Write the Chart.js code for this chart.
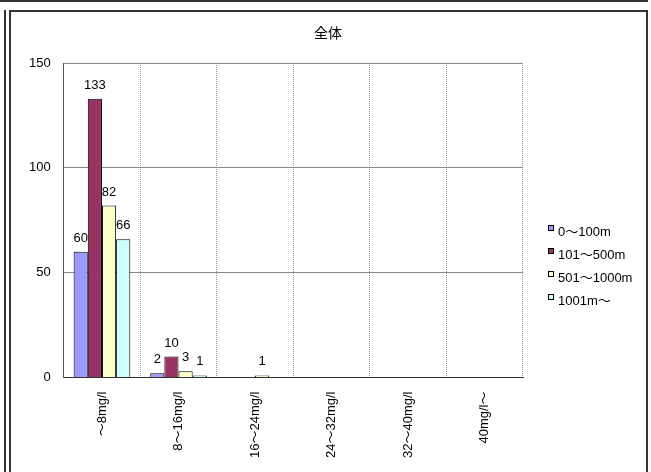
<!DOCTYPE html>
<html lang="ja">
<head>
    <meta charset="UTF-8">
    <title>全体</title>
    <style>
        body, html {
            margin: 0;
            width: 651px;
            height: 472px;
            overflow: hidden;
            background: #fff;
        }

        .line {
            position: absolute;
            background: #333;
        }

        .cell {
            position: absolute;
            left: 9px;
            top: 10px;
            width: 635px;
            height: 480px;
            border: 2px solid #333;
        }

        .chart-box {
            position: absolute;
            left: 11px;
            top: 12px;
            width: 634px;
            height: 460px;
        }
    </style>
</head>
<body>
    <div class="line" style="left:0; top:0; width:648px; height:2px;"></div>
    <div class="line" style="left:646px; top:0; width:2px; height:2px;"></div>
    <div class="line" style="left:4px; top:10px; width:2px; height:462px;"></div>
    <div class="cell"></div>
    <div class="chart-box">
        <canvas id="allChart"></canvas>
    </div>
    <script src="https://cdn.jsdelivr.net/npm/chart.js"></script>
    <script>
        const chartTitle = '全体';
        const categories = ['～8mg/l', '8～16mg/l', '16～24mg/l', '24～32mg/l', '32～40mg/l', '40mg/l～'];
        const seriesNames = ['0～100m', '101～500m', '501～1000m', '1001m～'];
        const values0to100 = [60, 2, 0, 0, 0, 0];
        const values101to500 = [133, 10, 0, 0, 0, 0];
        const values501to1000 = [82, 3, 1, 0, 0, 0];
        const values1001up = [66, 1, 0, 0, 0, 0];
        const yTicks = [0, 50, 100, 150];

        const fontFamily = '"Liberation Sans", Arial, "Noto Sans CJK JP", sans-serif';
        const colors = ['#9999FF', '#993366', '#FFFFCC', '#CCFFFF'];
        const seriesValues = [values0to100, values101to500, values501to1000, values1001up];

        Chart.defaults.font.family = fontFamily;
        Chart.defaults.font.size = 13;
        Chart.defaults.color = '#000';

        // numbers above bars (zeros are left out)
        const valueLabels = {
            id: 'valueLabels',
            afterDatasetsDraw(chart) {
                const ctx = chart.ctx;
                ctx.save();
                ctx.font = '13px ' + fontFamily;
                ctx.fillStyle = '#000';
                ctx.textAlign = 'center';
                ctx.textBaseline = 'alphabetic';
                chart.data.datasets.forEach((ds, i) => {
                    chart.getDatasetMeta(i).data.forEach((bar, j) => {
                        if (!ds.data[j]) return;
                        ctx.fillText(String(ds.data[j]), bar.x, bar.y - 10);
                    });
                });
                ctx.restore();
            }
        };

        // title centred on the whole box, legend on the right with small boxes
        const titleAndLegend = {
            id: 'titleAndLegend',
            afterDraw(chart) {
                const ctx = chart.ctx;
                ctx.save();
                ctx.fillStyle = '#000';
                ctx.font = '14px ' + fontFamily;
                ctx.textAlign = 'center';
                ctx.textBaseline = 'middle';
                ctx.fillText(chartTitle, chart.width / 2, 22);

                const x = chart.chartArea.right + 25;
                const y0 = 220;
                ctx.font = '13px ' + fontFamily;
                ctx.textAlign = 'left';
                chart.data.datasets.forEach((ds, i) => {
                    const y = y0 + i * 23;
                    ctx.fillStyle = ds.backgroundColor;
                    ctx.fillRect(x, y - 7, 6, 6);
                    ctx.strokeStyle = '#000';
                    ctx.lineWidth = 1;
                    ctx.strokeRect(x + 0.5, y - 6.5, 5, 5);
                    ctx.fillStyle = '#000';
                    ctx.fillText(ds.label, x + 10, y);
                });
                ctx.restore();
            }
        };

        new Chart(document.getElementById('allChart'), {
            type: 'bar',
            data: {
                labels: categories,
                datasets: seriesNames.map((name, i) => ({
                    label: name,
                    data: seriesValues[i],
                    backgroundColor: colors[i],
                    borderColor: '#000',
                    borderWidth: 1,
                    categoryPercentage: 0.74,
                    barPercentage: 1
                }))
            },
            options: {
                responsive: true,
                maintainAspectRatio: false,
                animation: false,
                layout: {
                    padding: { left: 5, right: 122, top: 51, bottom: 0 }
                },
                plugins: {
                    legend: { display: false },
                    tooltip: { enabled: false },
                    title: { display: false }
                },
                scales: {
                    x: {
                        grid: { offset: true, color: '#999', drawTicks: false },
                        border: { color: '#333', dash: [1, 1] },
                        ticks: { minRotation: 90, maxRotation: 90, padding: 14, color: '#000' }
                    },
                    y: {
                        min: yTicks[0],
                        max: yTicks[yTicks.length - 1],
                        afterBuildTicks(scale) {
                            scale.ticks = yTicks.map(v => ({ value: v }));
                        },
                        grid: { color: '#888', drawTicks: false },
                        border: { color: '#555' },
                        ticks: { padding: 13, color: '#000' }
                    }
                }
            },
            plugins: [valueLabels, titleAndLegend]
        });
    </script>
</body>
</html>
